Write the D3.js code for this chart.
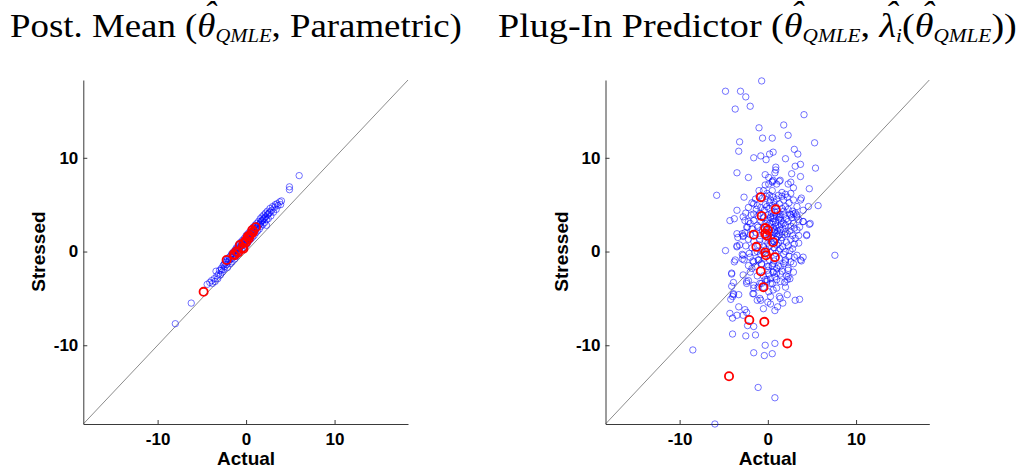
<!DOCTYPE html>
<html>
<head>
<meta charset='UTF-8'>
<title>Actual vs Stressed</title>
<script src='https://d3js.org/d3.v7.min.js'></script>
<style>
  body { margin: 0; background: #fff; }
  svg { display: block; }
</style>
</head>
<body>
<div id="graph"></div>
<script>
// axis limits and ticks (same for both panels, both axes)
var lim = [-18.4, 18.3];
var ticks = [-10, 0, 10];

// left panel: posterior mean, parametric
var leftBlue = [
  [-8.0,-7.7],[-6.2,-5.5],[-4.4,-3.5],[-4.1,-3.3],[-3.9,-3.1],[-3.8,-3.4],[-3.6,-2.9],[-3.5,-3.2],
  [-3.4,-2.1],[-3.3,-2.6],[-3.2,-2.9],[-3.1,-2.4],[-3.0,-2.0],[-2.9,-2.5],[-2.8,-1.8],[-2.7,-2.2],
  [-2.6,-1.5],[-2.5,-1.9],[-2.4,-1.2],[-2.4,-1.6],[-2.3,-1.0],[-2.2,-1.4],[-2.1,-0.8],[-2.1,-1.7],
  [-2.0,-1.1],[-1.9,-0.6],[-1.9,-0.9],[-1.8,-1.3],[-1.7,-0.4],[-1.7,-0.8],[-1.6,-0.2],[-1.6,-1.1],
  [-1.5,-0.6],[-1.4,0.0],[-1.4,-0.4],[-1.3,-0.8],[-1.2,0.2],[-1.2,-0.2],[-1.1,0.4],[-1.1,-0.5],
  [-1.0,0.1],[-0.9,0.6],[-0.9,-0.2],[-0.8,0.3],[-0.8,0.8],[-0.7,0.0],[-0.6,0.5],[-0.6,1.0],
  [-0.5,0.2],[-0.4,0.8],[-0.4,1.2],[-0.3,0.4],[-0.2,1.0],[-0.2,1.4],[-0.1,0.6],[0.0,1.2],
  [0.0,1.7],[0.1,0.8],[0.2,1.4],[0.2,1.9],[0.3,1.1],[0.4,1.6],[0.4,2.1],[0.5,1.3],
  [0.6,1.9],[0.6,2.3],[0.7,1.5],[0.8,2.1],[0.8,2.6],[0.9,1.7],[1.0,2.3],[1.0,2.8],
  [1.1,2.0],[1.2,2.5],[1.2,3.0],[1.3,2.2],[1.4,2.8],[1.4,3.2],[1.5,2.4],[1.6,3.0],
  [1.6,3.5],[1.7,2.7],[1.8,3.3],[1.8,3.7],[1.9,2.9],[2.0,3.5],[2.0,3.9],[2.1,3.1],
  [2.2,3.7],[2.2,4.1],[2.3,2.8],[2.4,3.9],[2.4,4.3],[2.5,3.5],[2.6,4.1],[2.7,4.6],
  [2.8,3.8],[2.9,4.4],[3.0,4.8],[3.1,4.2],[3.2,4.7],[3.3,5.0],[3.4,4.5],[3.5,5.1],
  [3.6,4.9],[3.8,5.3],[3.9,5.0],[4.0,5.4],[4.9,6.6],[4.9,6.9],[6.0,8.1],
  [-1.5,-0.3],[-1.3,-0.1],[-1.0,0.3],[-0.8,0.5],[-0.5,0.7],[-0.3,0.9],[-0.1,1.1],[0.1,1.3],
  [0.3,1.6],[0.5,1.8],[0.7,2.0],[0.9,2.2],[1.1,2.5],[1.3,2.7],[1.5,2.9],[1.7,3.2],
  [1.9,3.4],[2.1,3.6],[2.3,3.4],[2.5,4.0],[2.7,4.2],[-2.2,-1.1],[-2.5,-1.4],[-2.8,-2.0]
];
var leftRed = [
  [-4.8,-4.3],[-2.2,-0.9],[-1.4,-0.3],[-1.1,0.0],[-0.7,0.7],[-0.3,0.3],[-0.3,0.9],[0.0,1.2],
  [0.2,1.6],[0.4,1.7],[0.6,1.9],[0.8,2.1],[1.1,2.6],[-0.4,0.4],[-1.3,-0.4],[-0.9,-0.1],
  [0.0,1.0],[0.3,1.4],[0.7,2.3]
];

// right panel: plug-in predictor
var rightBlue = [
  [-0.7,18.2],[-4.8,17.1],[-3.1,17.1],[-2.5,16.5],[-2.0,15.5],[-3.7,15.2],[4.1,14.6],[1.8,13.5],
  [-1.0,13.2],[2.3,12.4],[-0.6,12.1],[0.5,12.1],[-3.2,11.7],[5.3,11.6],[3.0,10.9],[-3.3,10.7],
  [3.4,10.4],[0.6,10.6],[0.2,10.4],[-0.8,10.2],[-1.6,10.0],[-0.2,9.8],[2.0,9.9],[3.7,9.3],
  [3.1,9.1],[5.4,8.9],[0.9,9.0],[-3.5,8.4],[-2.2,7.9],[0.9,8.7],[0.8,8.4],[-0.3,8.2],
  [0.1,7.9],[2.7,8.3],[3.7,8.0],[2.6,7.4],[0.5,7.5],[0.6,7.6],[1.3,7.5],[1.4,7.6],
  [-0.3,7.1],[2.9,6.8],[4.7,6.7],[-5.8,6.0],[-1.0,6.5],
  [5.7,4.9],[4.6,4.8],[3.8,5.7],[4.0,3.2],[4.7,2.9],[4.4,1.8],[7.6,-0.4],[4.0,-0.6],
  [3.8,-1.0],[3.5,1.7],[3.5,0.9],[2.9,4.0],[3.3,3.9],
  [-4.8,0.1],[-4.3,3.3],[-3.8,3.5],[-3.5,4.4],[-2.8,3.7],[-2.7,5.8],[-3.5,1.9],[-3.4,1.5],
  [-3.5,0.6],[-2.9,1.9],[-2.8,1.6],[-2.4,2.6],[-2.2,3.2],[-3.8,-1.1],[-2.9,-0.3],[-2.7,-0.9],
  [-4.1,-2.3],[-3.9,-3.3],[-3.3,-5.9],[-4.1,-3.7],[-3.9,-4.5],[-4.2,-5.1],[-4.0,-4.8],[-4.3,-6.6],
  [-4.0,-7.1],[-3.5,-6.8],[-4.0,-8.8],[-2.6,-6.2],[-2.4,-6.5],[-2.8,-6.8],[-2.5,-9.0],[-1.4,-8.9],
  [-2.3,-7.9],[-1.6,-8.0],[-1.7,-4.5],[-0.8,-5.2],[0.3,-4.8],[0.0,-5.4],[0.3,-5.6],[1.3,-4.8],
  [1.4,-5.0],[1.7,-5.5],[1.1,-5.9],[0.8,-6.3],[3.1,-5.2],[3.6,-5.1],[-0.5,-6.1],[-0.3,-10.0],
  [0.8,-9.8],[-1.6,-10.8],[-0.4,-11.1],[0.5,-10.9],[-8.5,-10.5],[-1.1,-14.5],[0.8,-15.6],[-6.0,-18.4],
  [-2.2,-1.5],[-1.6,-1.1],[-1.1,-0.9],[-0.7,-1.3],[0.1,-1.6],[0.6,-1.3],[1.4,-1.6],[2.0,-1.1],
  [2.3,-2.0],[2.9,-1.3],[2.2,-3.0],[2.3,-2.7],[0.6,-2.2],[1.0,-2.3],[-0.1,-3.0],[0.3,-3.4],
  [-0.9,-3.4],[-0.5,-3.8],[-1.6,-3.9],[-2.2,-3.1],[-2.4,-3.4],[2.0,-3.8],[1.0,-3.9],[0.6,-4.1],
  [0.1,-4.3],[-1.2,-5.2],
  [-3.5,0.5],[-3.2,0.7],[-3.7,-0.9],[-2.9,-0.8],[-2.8,-0.4],[-2.0,-0.6],[-1.2,0.0],[-0.7,0.1],
  [1.4,0.3],[2.0,0.0],[2.5,0.1],[3.3,-0.4],[3.7,-0.9],[-4.1,-2.4],[-2.8,-2.5],[-2.0,-2.2],
  [-1.8,-1.8],[-0.1,-1.6],[0.5,-1.5],[1.0,-1.8],[1.8,-1.3],[2.3,-1.8],[2.9,-2.2],[-2.4,-3.2],
  [-1.6,-3.6],[-1.1,-3.8],[-0.1,-3.2],[0.3,-2.9],[1.4,-3.2],[2.5,-2.9],[-3.9,-4.6],[-3.3,-4.6],
  [-1.6,-4.5],[-0.9,-5.0],[2.2,-4.6],
  [0.1,7.2],[0.5,7.4],[1.0,7.2],[2.3,7.2],[-0.5,6.5],[-0.1,6.2],[0.5,6.5],[1.6,6.3],
  [0.3,5.5],[1.0,5.6],[1.8,5.5],[2.2,5.8],[2.9,5.5],[3.7,5.5],[-1.6,5.1],[-1.2,4.9],
  [-0.1,4.8],[2.0,4.8],[3.3,4.8],[4.0,4.4],[-1.6,4.0],[0.3,3.7],[1.4,3.7],[2.5,4.0],
  [3.3,3.7],[-2.0,3.0],[-1.2,2.8],[-0.3,3.0],[0.6,3.2],[1.8,3.0],[2.9,3.0],[4.0,3.2],
  [4.8,3.0],[-0.9,1.7],[0.6,2.1],[1.4,2.3],[2.2,1.9],[3.3,2.3],[4.4,1.7],[-2.8,1.7],
  [-1.8,5.2],[-1.4,5.6],[-1.0,5.9],[-0.6,5.7],[-0.2,5.9],[0.2,6.0],[0.6,5.8],[1.2,6.0],
  [1.6,5.9],[2.0,6.1],[2.6,6.2],[-2.2,4.7],[-1.3,4.5],[-0.8,4.7],[-0.4,4.4],[0.1,4.6],
  [0.5,4.9],[0.9,4.8],[1.1,4.3],[1.6,4.6],[2.3,4.5],[2.8,4.3],[3.1,4.1],[-2.5,4.1],
  [-1.9,3.9],[-1.1,3.8],[-0.5,3.6],[0.0,3.9],[0.4,4.1],[0.7,3.5],[1.0,3.9],[1.8,3.9],
  [2.1,3.5],[2.7,3.6],[3.5,3.4],[-2.6,3.3],[-1.6,3.3],[-0.8,3.2],[-0.1,3.4],[0.2,3.0],
  [0.9,3.1],[1.2,3.4],[1.5,2.9],[2.3,3.2],[2.6,2.7],[3.0,2.5],[-2.3,2.6],[-1.8,2.4],
  [-1.1,2.6],[-0.6,2.3],[0.3,2.6],[0.6,2.5],[0.9,2.7],[1.1,2.2],[1.7,2.5],[2.0,2.8],
  [2.5,2.2],[3.6,2.6],[-2.6,2.0],[-2.0,1.8],[-1.3,2.0],[-0.4,2.0],[0.2,1.9],[0.5,1.7],
  [0.8,2.0],[1.3,1.8],[1.6,1.5],[2.0,2.1],[2.8,1.7],[3.1,1.4],[-2.2,1.3],[-1.6,1.1],
  [-0.9,1.3],[-0.3,1.2],[0.1,1.4],[0.4,1.0],[0.9,1.3],[1.2,0.9],[1.5,1.2],[2.1,1.0],
  [2.6,1.3],[3.0,0.8],[-2.5,0.6],[-1.8,0.4],[-1.0,0.7],[-0.5,0.5],[0.2,0.6],[0.7,0.4],
  [1.0,0.7],[1.7,0.5],[2.3,0.6],[2.8,0.3],[-2.1,-0.2],[-1.5,-0.1],[-0.8,-0.3],[-0.2,0.2],
  [0.3,-0.1],[0.9,-0.2],[1.2,0.1],[1.8,-0.3],[2.4,-0.5],[3.0,-0.6],[-1.7,-1.0],[-1.0,-0.9],
  [-0.4,-0.7],[0.2,-0.9],[0.7,-1.0],[1.3,-0.7],[2.0,-0.9],[2.6,-1.1],[-1.4,-1.6],[-0.7,-1.4],
  [0.0,-2.0],[0.6,-2.2],[1.2,-1.5],[1.6,-2.1],[2.1,-2.6],[-1.2,-2.6],[-0.5,-2.6],[0.1,-2.4],
  [0.8,-2.7],[1.4,-2.4],[-0.3,-3.0],[0.5,-3.4],[1.0,-3.0],[1.9,-3.3],[-0.7,-3.4],
  [0.3,3.6],[0.6,3.8],[0.8,4.2],[1.3,3.6],[1.4,4.0],[0.5,2.9],[0.8,2.3],[1.0,1.9],
  [1.3,2.6],[0.1,2.3],[-0.2,2.6],[0.4,1.4],[0.7,1.1],[1.1,1.6],[1.9,1.8],[1.5,3.3],
  [0.2,5.2],[0.7,5.3],[1.3,5.1],[-0.3,5.0],[2.4,5.2],[2.6,3.9],[0.0,0.9],[1.8,4.3],[-0.9,4.1]
];
var rightRed = [
  [-0.8,5.8],[0.9,4.5],[-0.7,3.8],[-0.3,2.5],[-1.6,1.8],[0.0,2.3],[-0.1,1.7],[-0.3,1.9],
  [-1.3,0.5],[0.6,1.0],[-0.3,-0.1],[-0.2,-0.4],[0.8,-0.6],[-0.8,-2.1],[-0.5,-3.8],[-2.1,-7.3],
  [-0.4,-7.5],[2.2,-9.8],[-4.4,-13.3]
];

// titles: [text, kind]  n = roman, i = italic, s = subscript, h = hat over previous
var leftTitle = [
  ['Post. Mean (', 'n'], ['\u03b8', 'i'], ['\u02c6', 'h'], ['QMLE', 's'],
  [', Parametric)', 'n']
];
var rightTitle = [
  ['Plug-In Predictor (', 'n'], ['\u03b8', 'i'], ['\u02c6', 'h'], ['QMLE', 's'],
  [', ', 'n'], ['\u03bb', 'i'], ['\u02c6', 'h'], ['i', 's'], ['(', 'n'],
  ['\u03b8', 'i'], ['\u02c6', 'h'], ['QMLE', 's'], ['))', 'n']
];

var panels = [
  {blue: leftBlue, red: leftRed, title: leftTitle, x0: 83.3, x1: 408, tx0: 10, tx1: 462},
  {blue: rightBlue, red: rightRed, title: rightTitle, x0: 605.5, x1: 929.3, tx0: 498, tx1: 1017}
];
var yTop = 80, yBottom = 424;
var sans = 'Liberation Sans, Arial, sans-serif';

var svg = d3.select('#graph').append('svg')
  .attr('width', 1023)
  .attr('height', 468)
  .style('background', '#fff');

panels.forEach(function(p) {
  var x = d3.scaleLinear().domain(lim).range([p.x0, p.x1]);
  var y = d3.scaleLinear().domain(lim).range([yBottom, yTop]);
  var g = svg.append('g');

  // identity line
  g.append('line')
    .attr('x1', x(lim[0])).attr('y1', y(lim[0]))
    .attr('x2', x(lim[1])).attr('y2', y(lim[1]))
    .attr('stroke', '#8c8c8c')
    .attr('stroke-width', 1);

  var fmt = d => String(d);
  var xAxis = g.append('g')
    .attr('transform', 'translate(0,' + yBottom + ')')
    .call(d3.axisBottom(x).tickValues(ticks).tickFormat(fmt).tickSize(-4).tickSizeOuter(0).tickPadding(9));
  var yAxis = g.append('g')
    .attr('transform', 'translate(' + p.x0 + ',0)')
    .call(d3.axisLeft(y).tickValues(ticks).tickFormat(fmt).tickSize(-4).tickSizeOuter(0).tickPadding(5));
  [xAxis, yAxis].forEach(function(a) {
    a.select('.domain').attr('stroke', '#3a3a3a');
    a.selectAll('.tick line').attr('stroke', '#3a3a3a');
    a.selectAll('.tick text')
      .attr('fill', '#000')
      .style('font-family', sans)
      .style('font-weight', 'bold')
      .style('font-size', '17px');
  });

  g.append('text')
    .attr('x', x(0)).attr('y', 465)
    .attr('text-anchor', 'middle')
    .style('font-family', sans)
    .style('font-weight', 'bold')
    .style('font-size', '19px')
    .text('Actual');
  g.append('text')
    .attr('transform', 'translate(' + (p.x0 - 38) + ',' + y(0) + ') rotate(-90)')
    .attr('text-anchor', 'middle')
    .style('font-family', sans)
    .style('font-weight', 'bold')
    .style('font-size', '19px')
    .text('Stressed');

  g.append('g').selectAll('circle')
    .data(p.blue)
    .enter()
    .append('circle')
    .attr('cx', d => x(d[0]))
    .attr('cy', d => y(d[1]))
    .attr('r', 3.2)
    .attr('fill', 'none')
    .attr('stroke', '#0000ff')
    .attr('stroke-width', 0.55);

  g.append('g').selectAll('circle')
    .data(p.red)
    .enter()
    .append('circle')
    .attr('cx', d => x(d[0]))
    .attr('cy', d => y(d[1]))
    .attr('r', 4.1)
    .attr('fill', 'none')
    .attr('stroke', '#ff0000')
    .attr('stroke-width', 1.8);

  // title, squeezed to the reference width
  var t = svg.append('text')
    .attr('y', 37)
    .style('font-family', 'Liberation Serif, Times New Roman, serif')
    .style('font-size', '34px');
  var shift = 0, back = 0, lastW = 0;
  p.title.forEach(function(part) {
    var kind = part[1];
    var s = t.append('tspan').text(part[0]);
    var want = kind === 's' ? 5 : (kind === 'h' ? -12 : 0);
    if (kind !== 'n') s.style('font-style', 'italic');
    if (kind === 's') s.style('font-size', '19px');
    if (want !== shift) s.attr('dy', want - shift);
    shift = want;
    if (kind === 'h') {
      var hw = s.node().getComputedTextLength();
      s.attr('dx', -(lastW + hw) / 2 + 3);
      back = (lastW - hw) / 2 - 3;
    } else {
      if (back) s.attr('dx', back);
      back = 0;
      lastW = s.node().getComputedTextLength();
    }
  });
  var bb = t.node().getBBox();
  var k = (p.tx1 - p.tx0) / bb.width;
  t.attr('transform', 'translate(' + p.tx0 + ',0) scale(' + k + ',1) translate(' + (-bb.x) + ',0)');
});
</script>
</body>
</html>
